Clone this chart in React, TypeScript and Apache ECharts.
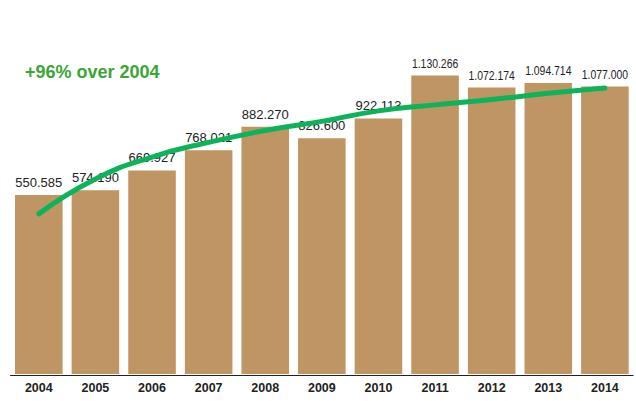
import React, { useEffect, useRef } from "react";
import * as echarts from "echarts";

const years = ["2004", "2005", "2006", "2007", "2008", "2009", "2010", "2011", "2012", "2013", "2014"];
const visitors = [550585, 574190, 669927, 768021, 882270, 826600, 922113, 1130266, 1072174, 1094714, 1077000];
const trend = [459000, 628000, 735000, 806000, 864000, 908000, 959000, 988000, 1014000, 1044000, 1070000];
const headline = "+96% over 2004";

const Y_MIN = -323000;
const Y_MAX = 1497000;
const BAR = "#BE9563";
const LINE = "#0DB35A";
const TITLE = "#3CA535";
const REGULAR = "'Liberation Sans', Arial, sans-serif";

const fmt = (v: number) => String(Math.round(v)).replace(/\B(?=(\d{3})+(?!\d))/g, ".");

export default function App() {
  const ref = useRef<HTMLDivElement>(null);
  useEffect(() => {
    if (!ref.current) return;
    const chart = echarts.init(ref.current, null, { renderer: "svg" });
    chart.setOption({
      animation: false,
      backgroundColor: "#ffffff",
      title: {
        text: headline,
        left: 25,
        top: 63,
        padding: 0,
        textStyle: { color: TITLE, fontSize: 18, fontWeight: "bold", fontFamily: REGULAR },
      },
      grid: { left: 10.5, right: 2.8, top: 0, bottom: 26, containLabel: false },
      xAxis: {
        type: "category",
        data: years,
        axisLine: { show: true, onZero: false, lineStyle: { color: "#222222", width: 1 } },
        axisTick: { show: false },
        axisLabel: {
          color: "#222222",
          fontSize: 12.5,
          fontWeight: "bold",
          fontFamily: REGULAR,
          margin: 6,
        },
        splitLine: { show: false },
      },
      yAxis: {
        type: "value",
        min: Y_MIN,
        max: Y_MAX,
        show: false,
        splitLine: { show: false },
      },
      series: [
        {
          type: "custom",
          data: visitors.map((v, i) => [i, v]),
          renderItem: (params: any, api: any) => {
            const idx = api.value(0);
            const val = api.value(1);
            const top = api.coord([idx, val]);
            const base = api.coord([idx, Y_MIN]);
            const w = api.size([1, 0])[0] * 0.84;
            const small = idx >= 7;
            return {
              type: "group",
              children: [
                {
                  type: "rect",
                  shape: { x: top[0] - w / 2, y: top[1], width: w, height: base[1] - top[1] - 1 },
                  style: { fill: BAR },
                },
                {
                  type: "text",
                  x: top[0],
                  y: top[1] - 6,
                  scaleX: small ? 0.8 : 1,
                  style: {
                    text: fmt(val),
                    align: "center",
                    verticalAlign: "bottom",
                    fontSize: 13,
                    fontFamily: REGULAR,
                    fill: "#222222",
                  },
                },
              ],
            };
          },
          z: 1,
        },
        {
          type: "line",
          data: trend,
          smooth: true,
          symbol: "none",
          lineStyle: { color: LINE, width: 5, cap: "round" },
          z: 3,
        },
      ],
    });
    return () => chart.dispose();
  }, []);
  return <div ref={ref} style={{ position: "fixed", left: 0, top: 0, width: 636, height: 401 }} />;
}
